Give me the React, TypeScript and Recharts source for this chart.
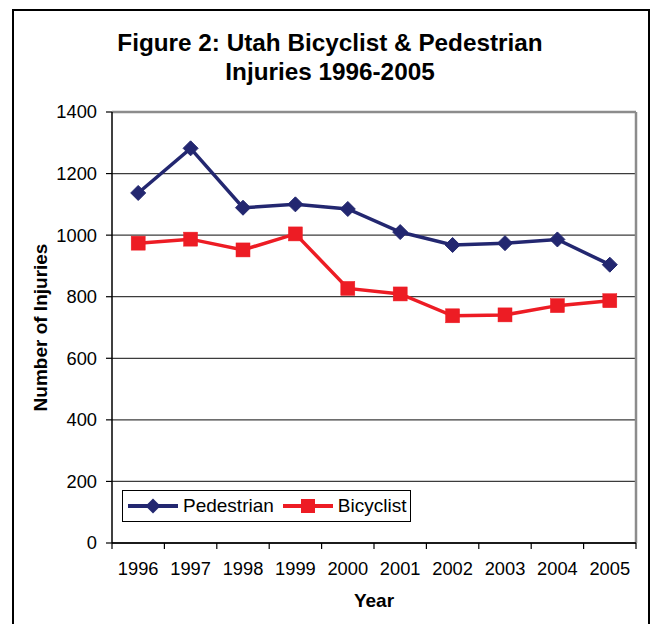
import React from 'react';
import { LineChart, Line, XAxis, YAxis, CartesianGrid, ReferenceLine, Legend } from 'recharts';

const years = ['1996', '1997', '1998', '1999', '2000', '2001', '2002', '2003', '2004', '2005'];
const pedestrian = [1137, 1282, 1089, 1100, 1085, 1010, 968, 974, 986, 904];
const bicyclist = [974, 987, 952, 1004, 827, 809, 738, 741, 771, 787];
const yTicks = [0, 200, 400, 600, 800, 1000, 1200, 1400];

const titleLines = ['Figure 2: Utah Bicyclist & Pedestrian', 'Injuries 1996-2005'];

const W = 651;
const H = 624;
const MARGIN = { top: 112, right: 15, bottom: 0, left: 12 };
const Y_AXIS_W = 100;
const X_AXIS_H = 81;
const PLOT_W = W - MARGIN.left - Y_AXIS_W - MARGIN.right;
const HALF_BAND = PLOT_W / years.length / 2;

const FONT = '"Liberation Sans", Arial, sans-serif';
const NAVY = '#232770';
const RED = '#ED1C24';

const data = years.map((year, i) => ({
  pos: i + 0.5,
  year,
  pedestrian: pedestrian[i],
  bicyclist: bicyclist[i],
}));
const edgeTicks = [...years.map((_, i) => i), years.length];

const Diamond = (props: any) => {
  const { cx, cy } = props;
  if (cx == null || cy == null) return null;
  return (
    <polygon
      points={`${cx},${cy - 7.5} ${cx + 7.5},${cy} ${cx},${cy + 7.5} ${cx - 7.5},${cy}`}
      fill={NAVY}
      stroke={NAVY}
      strokeWidth={1}
    />
  );
};

const Square = (props: any) => {
  const { cx, cy } = props;
  if (cx == null || cy == null) return null;
  return <rect x={cx - 7} y={cy - 7} width={14} height={14} fill={RED} stroke={RED} strokeWidth={0.5} />;
};

const XTick = (props: any) => {
  const { x, y, payload } = props;
  const idx = payload.value;
  if (idx >= years.length) return <g />;
  return (
    <text x={x + HALF_BAND} y={y} dy="0.71em" textAnchor="middle" fontSize={18.3} fontFamily={FONT} fill="#000">
      {years[idx]}
    </text>
  );
};

const LegendContent = () => (
  <div
    style={{
      boxSizing: 'border-box',
      height: 32,
      border: '1.5px solid #000',
      background: '#fff',
      display: 'inline-flex',
      alignItems: 'center',
      paddingLeft: 5,
      paddingRight: 4,
      fontFamily: FONT,
      fontSize: 19,
      color: '#000',
      whiteSpace: 'nowrap',
    }}
  >
    <svg width={50} height={20} style={{ display: 'block' }}>
      <line x1={0} y1={10} x2={50} y2={10} stroke={NAVY} strokeWidth={4} />
      <polygon points="25,2.5 32.5,10 25,17.5 17.5,10" fill={NAVY} />
    </svg>
    <span style={{ marginLeft: 5 }}>Pedestrian</span>
    <svg width={50} height={20} style={{ display: 'block', marginLeft: 9 }}>
      <line x1={0} y1={10} x2={50} y2={10} stroke={RED} strokeWidth={4} />
      <rect x={18} y={3} width={14} height={14} fill={RED} />
    </svg>
    <span style={{ marginLeft: 5 }}>Bicyclist</span>
  </div>
);

export default function App() {
  return (
    <div
      style={{
        position: 'fixed',
        left: 0,
        top: 0,
        width: W,
        height: H,
        overflow: 'hidden',
        background: '#fff',
      }}
    >
      <div
        style={{
          position: 'absolute',
          left: 12,
          top: 9,
          width: 638,
          height: 700,
          boxSizing: 'border-box',
          border: '2px solid #000',
        }}
      />
      <div style={{ position: 'absolute', left: 0, top: 0 }}>
        <LineChart width={W} height={H} data={data} margin={MARGIN}>
          <CartesianGrid vertical={false} stroke="#3c3c3c" strokeWidth={1.3} />
          <ReferenceLine y={1400} stroke="#8c8c8c" strokeWidth={2.5} />
          <ReferenceLine x={years.length} stroke="#8c8c8c" strokeWidth={2.5} />
          <XAxis
            type="number"
            dataKey="pos"
            domain={[0, years.length]}
            ticks={edgeTicks}
            interval={0}
            height={X_AXIS_H}
            tick={<XTick />}
            tickSize={6}
            tickMargin={13}
            axisLine={{ stroke: '#000', strokeWidth: 1.5 }}
            tickLine={{ stroke: '#000', strokeWidth: 1.2 }}
            allowDecimals={false}
            label={{
              content: (p: any) => {
                const vb = p.viewBox;
                return (
                  <text
                    x={vb.x + vb.width / 2}
                    y={vb.y + 64}
                    textAnchor="middle"
                    fontSize={19}
                    fontWeight="bold"
                    fontFamily={FONT}
                    fill="#000"
                  >
                    Year
                  </text>
                );
              },
            }}
          />
          <YAxis
            type="number"
            domain={[0, 1400]}
            ticks={yTicks}
            interval={0}
            width={Y_AXIS_W}
            tickSize={6}
            tickMargin={9}
            tick={{ fontSize: 18.3, fontFamily: FONT, fill: '#000' }}
            axisLine={{ stroke: '#000', strokeWidth: 1.5 }}
            tickLine={{ stroke: '#000', strokeWidth: 1.2 }}
            label={{
              content: (p: any) => {
                const vb = p.viewBox;
                const cx = vb.x + 35;
                const cy = vb.y + vb.height / 2;
                return (
                  <text
                    x={cx}
                    y={cy}
                    transform={`rotate(-90 ${cx} ${cy})`}
                    textAnchor="middle"
                    fontSize={19}
                    fontWeight="bold"
                    fontFamily={FONT}
                    fill="#000"
                  >
                    Number of Injuries
                  </text>
                );
              },
            }}
          />
          <Legend
            layout="horizontal"
            verticalAlign="middle"
            align="center"
            wrapperStyle={{ position: 'absolute', left: 122, top: 490, width: 'auto', height: 'auto' }}
            content={<LegendContent />}
          />
          <Line
            type="linear"
            dataKey="pedestrian"
            name="Pedestrian"
            stroke={NAVY}
            strokeWidth={3.5}
            dot={<Diamond />}
            activeDot={false}
            isAnimationActive={false}
          />
          <Line
            type="linear"
            dataKey="bicyclist"
            name="Bicyclist"
            stroke={RED}
            strokeWidth={3.5}
            dot={<Square />}
            activeDot={false}
            isAnimationActive={false}
          />
        </LineChart>
      </div>
      <svg width={W} height={100} style={{ position: 'absolute', left: 0, top: 0, pointerEvents: 'none' }}>
        {titleLines.map((t, i) => (
          <text
            key={t}
            x={330}
            y={51 + i * 29}
            textAnchor="middle"
            fontSize={24.3}
            fontWeight="bold"
            fontFamily={FONT}
            fill="#000"
          >
            {t}
          </text>
        ))}
      </svg>
    </div>
  );
}
